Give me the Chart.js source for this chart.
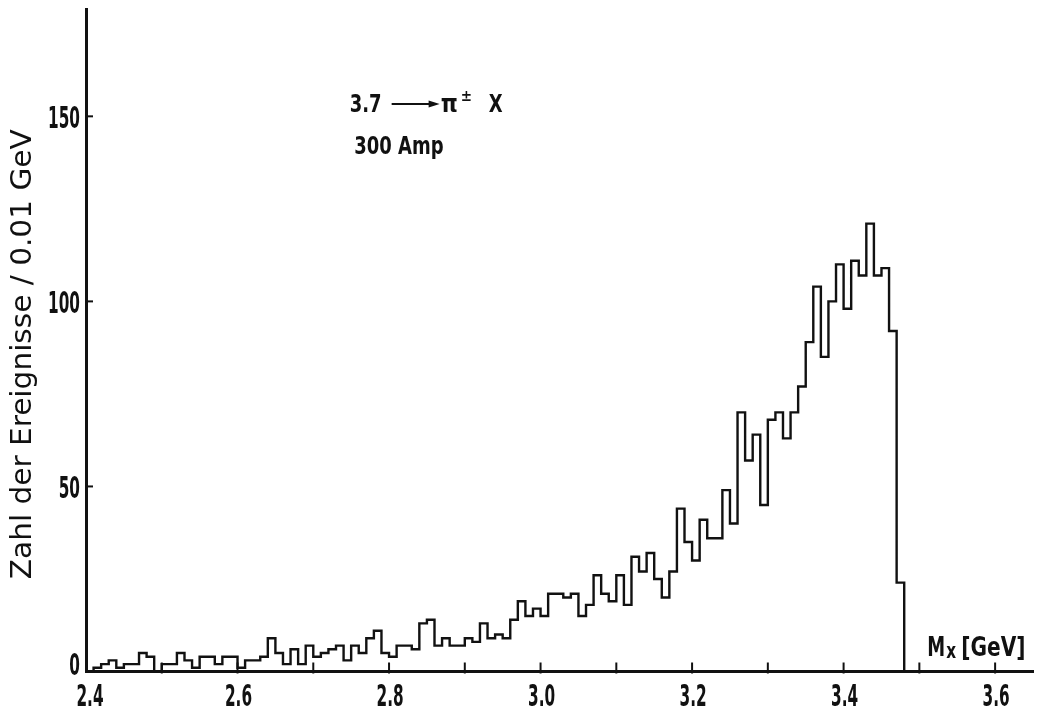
<!DOCTYPE html>
<html>
<head>
<meta charset="utf-8">
<script src="https://cdn.jsdelivr.net/npm/chart.js@4/dist/chart.umd.min.js"></script>
<style>
  html, body { margin: 0; padding: 0; background: #ffffff; }
  #wrap { width: 1044px; height: 709px; }
</style>
</head>
<body>
<div id="wrap"><canvas id="c" width="1044" height="709"></canvas></div>
<script>
// Missing-mass spectrum, events per 0.01 GeV bin
const binStart = 2.40;   // GeV, lower edge of the first bin
const binWidth = 0.01;   // GeV
const counts = [
  0, 1, 2, 3, 1, 2, 2, 5, 4, 0,          // 2.40 - 2.49
  2, 2, 5, 3, 1, 4, 4, 2, 4, 4,          // 2.50 - 2.59
  1, 3, 3, 4, 9, 5, 2, 6, 2, 7,          // 2.60 - 2.69
  4, 5, 6, 7, 3, 7, 5, 9, 11, 5,         // 2.70 - 2.79
  4, 7, 7, 6, 13, 14, 7, 9, 7, 7,        // 2.80 - 2.89
  9, 8, 13, 9, 10, 9, 14, 19, 15, 17,    // 2.90 - 2.99
  15, 21, 21, 20, 21, 15, 18, 26, 21, 19,// 3.00 - 3.09
  26, 18, 31, 27, 32, 25, 20, 27, 44, 35,// 3.10 - 3.19
  30, 41, 36, 36, 49, 40, 70, 57, 64, 45,// 3.20 - 3.29
  68, 70, 63, 70, 77, 89, 104, 85, 100, 110, // 3.30 - 3.39
  98, 111, 107, 121, 107, 109, 92, 24    // 3.40 - 3.47
];
const xTickLabels = ['2.4', '2.6', '2.8', '3.0', '3.2', '3.4', '3.6'];
const yTickLabels = ['0', '50', '100', '150'];
const yTitle = 'Zahl der Ereignisse / 0.01 GeV';
const reactionText = ['3.7', 'π', '±', 'X'];
const currentText = '300 Amp';
const xQuantity = ['M', 'x', '[GeV]'];

// Histogram outline: each bin contributes its two upper corners
const outline = [{ x: binStart, y: 0 }];
counts.forEach((v, i) => {
  const lo = +(binStart + i * binWidth).toFixed(2);
  const hi = +(binStart + (i + 1) * binWidth).toFixed(2);
  outline.push({ x: lo, y: v }, { x: hi, y: v });
});
outline.push({ x: +(binStart + counts.length * binWidth).toFixed(2), y: 0 });

const FONT = '"DejaVu Sans Condensed", "DejaVu Sans", sans-serif';
const INK = '#111111';

// Narrow, tall lettering: draw text with a vertical stretch
function tallText(ctx, s, x, y, o) {
  const opt = Object.assign({ size: 18, sy: 1.5, sx: 1, align: 'left', weight: 'normal', rot: 0 }, o);
  ctx.save();
  ctx.translate(x, y);
  if (opt.rot) ctx.rotate(opt.rot);
  ctx.scale(opt.sx, opt.sy);
  ctx.font = `${opt.weight} ${opt.size}px ${FONT}`;
  ctx.textAlign = opt.align;
  ctx.textBaseline = 'alphabetic';
  ctx.fillText(s, 0, 0);
  const w = ctx.measureText(s).width * opt.sx;
  ctx.restore();
  return w;
}

const decorations = {
  id: 'decorations',
  afterDraw(chart) {
    const ctx = chart.ctx;
    const xs = chart.scales.x, ys = chart.scales.y;
    const { left, bottom } = chart.chartArea;
    ctx.save();
    ctx.strokeStyle = INK;
    ctx.fillStyle = INK;
    ctx.lineWidth = 2;

    // x ticks point up into the plot
    xs.ticks.forEach(t => {
      const px = xs.getPixelForValue(t.value);
      const s = (Math.round(t.value * 10) / 10).toFixed(1);
      if (px > left + 3) {
        ctx.beginPath();
        ctx.moveTo(px, bottom - 9);
        ctx.lineTo(px, bottom + 2);
        ctx.stroke();
      }
      if (xTickLabels.includes(s)) {
        const lx = px > left + 3 ? px + 1 : left + 4;
        tallText(ctx, s, lx, bottom + 34, { size: 17, sy: 1.75, align: 'center', weight: 'bold' });
      }
    });

    // y ticks point right into the plot
    ys.ticks.forEach(t => {
      const s = String(t.value);
      if (!yTickLabels.includes(s)) return;
      const py = ys.getPixelForValue(t.value);
      if (t.value > 0) {
        ctx.beginPath();
        ctx.moveTo(left, py);
        ctx.lineTo(left + 7, py);
        ctx.stroke();
      }
      const base = Math.min(py + 12, bottom + 3);
      tallText(ctx, s, left - 6, base, { size: 17, sy: 1.75, align: 'right', weight: 'bold' });
    });

    // y title, rotated
    const titleLen = 450;
    ctx.save();
    ctx.font = `normal 23px ${FONT}`;
    const natural = ctx.measureText(yTitle).width;
    ctx.restore();
    tallText(ctx, yTitle, 31, (chart.chartArea.top + bottom) / 2 + 14, {
      size: 23, sy: 1.25, sx: titleLen / natural, align: 'center', rot: -Math.PI / 2
    });

    // reaction label
    const ax = xs.getPixelForValue(2.748);
    const ay = ys.getPixelForValue(153.3);
    tallText(ctx, reactionText[0], ax, ay + 8, { size: 20, sy: 1.2, weight: 'bold' });
    const arrowStart = ax + 42, arrowEnd = ax + 90;
    ctx.lineWidth = 2;
    ctx.beginPath();
    ctx.moveTo(arrowStart, ay);
    ctx.lineTo(arrowEnd - 6, ay);
    ctx.stroke();
    ctx.beginPath();
    ctx.moveTo(arrowEnd, ay);
    ctx.lineTo(arrowEnd - 11, ay - 3.5);
    ctx.lineTo(arrowEnd - 11, ay + 3.5);
    ctx.closePath();
    ctx.fill();
    tallText(ctx, reactionText[1], arrowEnd + 1, ay + 8, { size: 24, sy: 1.0, weight: 'bold' });
    tallText(ctx, reactionText[2], arrowEnd + 21, ay - 3, { size: 15, sy: 1.1, weight: 'bold' });
    tallText(ctx, reactionText[3], arrowEnd + 49, ay + 8, { size: 20, sy: 1.2, weight: 'bold' });

    // current label
    tallText(ctx, currentText, xs.getPixelForValue(2.754), ys.getPixelForValue(141.9) + 8,
      { size: 20, sy: 1.2, weight: 'bold' });

    // axis quantity
    const mx = xs.getPixelForValue(3.5105);
    const my = bottom - 16;
    const mw = tallText(ctx, xQuantity[0], mx, my, { size: 20, sy: 1.3, weight: 'bold' });
    tallText(ctx, xQuantity[1], mx + mw + 1, my + 2, { size: 17, sy: 1.2, weight: 'bold' });
    tallText(ctx, xQuantity[2], mx + mw + 16, my, { size: 20, sy: 1.3, sx: 1.12, weight: 'bold' });
    ctx.restore();
  }
};

new Chart(document.getElementById('c'), {
  type: 'line',
  data: {
    datasets: [{
      data: outline,
      borderColor: INK,
      borderWidth: 2.4,
      pointRadius: 0,
      tension: 0,
      fill: false,
      clip: false
    }]
  },
  options: {
    responsive: false,
    animation: false,
    devicePixelRatio: 1,
    layout: { padding: { top: 9, right: 11, left: 0, bottom: 0 } },
    plugins: { legend: { display: false }, tooltip: { enabled: false } },
    scales: {
      x: {
        type: 'linear',
        min: 2.4,
        max: 3.65,
        afterFit: s => { s.height = 37.5; },
        grid: { display: false },
        border: { display: true, color: INK, width: 3 },
        ticks: { display: false, stepSize: 0.1, includeBounds: false, autoSkip: false }
      },
      y: {
        min: 0,
        max: 179,
        afterFit: s => { s.width = 86; },
        grid: { display: false },
        border: { display: true, color: INK, width: 3 },
        ticks: { display: false, stepSize: 50, includeBounds: false }
      }
    }
  },
  plugins: [decorations]
});
</script>
</body>
</html>
